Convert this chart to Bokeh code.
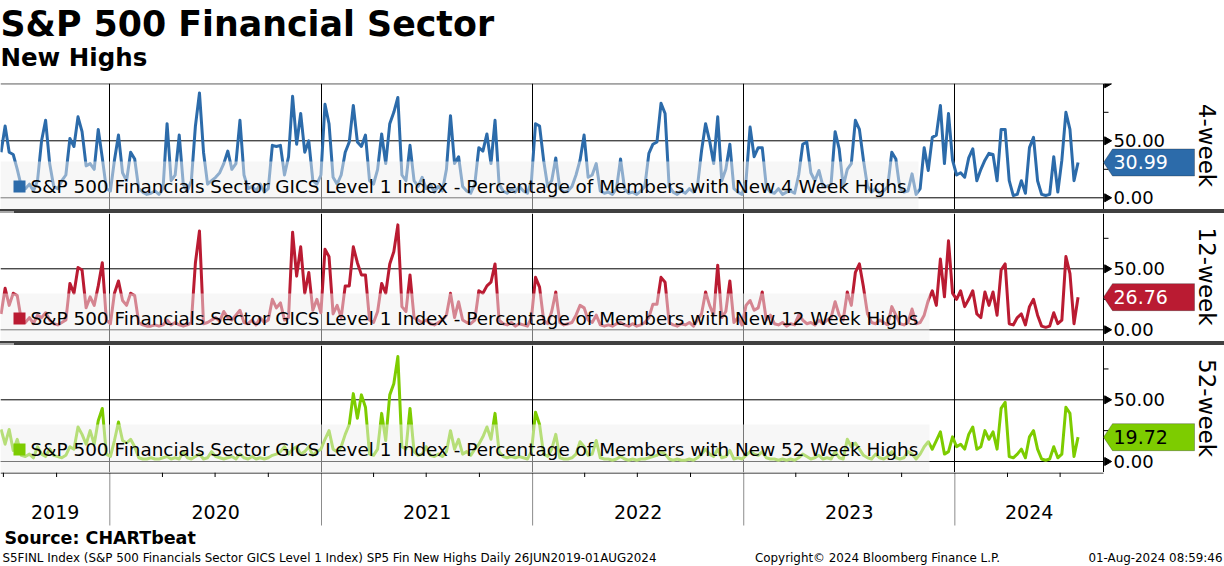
import math
import pandas as pd
from bokeh.plotting import figure
from bokeh.models import (Range1d, FixedTicker, Label, PolyAnnotation, BoxAnnotation,
                          Span, Grid, Div)
from bokeh.layouts import column
from bokeh.embed import file_html
from bokeh.resources import INLINE

# ---------------- data (weekly readings, % of members) ----------------
dates = pd.date_range("2019-06-27", "2024-08-01", freq="7D")

week4 = [40, 63, 40, 38, 25, 10, 8, 12, 6, 15,
         50, 68, 30, 10, 8, 15, 20, 52, 45, 71,
         58, 28, 30, 25, 60, 35, 8, 6, 33, 55,
         22, 15, 40, 34, 8, 5, 3, 4, 6, 3,
         8, 65, 15, 20, 55, 12, 6, 15, 63, 92,
         40, 12, 15, 18, 22, 30, 41, 25, 30, 68,
         20, 8, 10, 6, 12, 5, 8, 46, 45, 46,
         20, 36, 89, 47, 74, 40, 50, 15, 12, 20,
         82, 65, 18, 12, 20, 40, 49, 81, 49, 45,
         55, 15, 12, 25, 56, 30, 65, 75, 88, 20,
         15, 46, 15, 10, 18, 8, 12, 5, 10, 6,
         25, 72, 30, 36, 10, 6, 4, 12, 44, 41,
         56, 30, 68, 12, 6, 4, 8, 5, 10, 6,
         4, 15, 65, 63, 33, 10, 15, 35, 8, 5,
         6, 10, 20, 33, 55, 18, 20, 30, 6, 4,
         5, 3, 8, 34, 8, 4, 5, 3, 6, 10,
         39, 47, 49, 83, 74, 10, 5, 3, 6, 4,
         8, 5, 10, 41, 65, 50, 30, 71, 15, 25,
         47, 8, 5, 3, 15, 62, 36, 44, 44, 10,
         5, 4, 8, 3, 5, 6, 4, 20, 47, 49,
         22, 15, 24, 10, 10, 12, 58, 43, 10, 25,
         30, 68, 60, 33, 10, 5, 8, 4, 6, 10,
         40, 34, 8, 5, 6, 21, 3, 8, 44, 24,
         53, 55, 81, 30, 74, 33, 20, 22, 18, 35,
         43, 15, 25, 33, 39, 38, 15, 60, 60, 15,
         2, 3, 15, 4, 44, 53, 15, 3, 2, 3,
         36, 5, 33, 75, 60, 15, 30.99]

week12 = [13, 34, 20, 30, 28, 8, 6, 10, 5, 12,
          10, 14, 8, 5, 4, 6, 8, 38, 30, 51,
          49, 18, 27, 20, 36, 55, 8, 5, 30, 40,
          24, 20, 30, 28, 6, 4, 3, 3, 4, 3,
          4, 8, 4, 6, 4, 3, 4, 6, 55, 81,
          5, 6, 8, 10, 7, 15, 10, 8, 12, 16,
          6, 5, 8, 4, 10, 6, 8, 25, 18, 22,
          8, 10, 80, 44, 68, 30, 47, 16, 25, 14,
          66, 60, 13, 20, 10, 36, 36, 68, 55, 45,
          45, 8, 6, 15, 38, 30, 54, 64, 86, 19,
          15, 45, 10, 8, 6, 8, 5, 4, 6, 8,
          12, 30, 10, 23, 8, 6, 5, 8, 32, 30,
          36, 39, 54, 8, 5, 4, 6, 3, 5, 4,
          3, 10, 43, 35, 8, 5, 15, 31, 6, 4,
          5, 6, 12, 20, 18, 8, 6, 12, 4, 3,
          4, 3, 5, 6, 4, 3, 5, 3, 4, 6,
          10, 21, 21, 43, 39, 6, 4, 3, 5, 4,
          6, 3, 8, 13, 31, 20, 12, 53, 10, 15,
          40, 6, 10, 4, 20, 24, 16, 18, 31, 8,
          12, 5, 4, 6, 3, 5, 4, 12, 8, 5,
          6, 4, 8, 5, 8, 10, 23, 12, 8, 31,
          20, 47, 54, 35, 13, 6, 5, 8, 6, 4,
          19, 12, 5, 4, 6, 17, 5, 6, 12, 24,
          32, 20, 58, 27, 73, 30, 25, 32, 19, 25,
          32, 13, 10, 31, 20, 31, 12, 49, 54, 5,
          4, 10, 13, 4, 19, 25, 12, 3, 2, 3,
          14, 5, 8, 60, 46, 5, 26.76]

week52 = [26, 14, 26, 9, 18, 5, 4, 6, 3, 12,
          6, 4, 10, 5, 4, 3, 5, 12, 10, 28,
          22, 14, 25, 14, 33, 43, 6, 4, 17, 32,
          17, 15, 18, 12, 3, 2, 2, 3, 2, 2,
          3, 4, 2, 3, 2, 8, 3, 2, 4, 6,
          2, 3, 8, 4, 3, 2, 3, 4, 2, 6,
          3, 2, 4, 2, 3, 2, 3, 5, 6, 8,
          12, 6, 10, 12, 6, 8, 12, 5, 8, 10,
          18, 25, 10, 8, 12, 22, 30, 55, 35, 54,
          44, 6, 5, 10, 39, 17, 54, 63, 85, 12,
          10, 43, 8, 5, 6, 12, 5, 4, 6, 4,
          8, 25, 10, 18, 6, 8, 5, 10, 14, 20,
          28, 18, 39, 8, 4, 3, 4, 3, 4, 3,
          2, 8, 40, 30, 6, 4, 10, 22, 3, 2,
          2, 3, 6, 16, 12, 5, 6, 17, 3, 2,
          2, 1, 2, 4, 2, 1, 2, 1, 2, 2,
          3, 4, 5, 8, 6, 2, 1, 2, 1, 1,
          2, 1, 3, 6, 10, 6, 4, 10, 3, 4,
          9, 2, 3, 2, 5, 8, 6, 5, 8, 3,
          2, 2, 1, 2, 1, 2, 1, 3, 6, 4,
          2, 3, 5, 2, 3, 2, 8, 3, 2, 18,
          12, 15, 10, 5, 3, 2, 6, 3, 2, 4,
          8, 3, 2, 3, 8, 6, 2, 6, 12, 16,
          10, 17, 24, 6, 8, 20, 12, 14, 10, 22,
          28, 10, 12, 25, 18, 24, 10, 43, 48, 4,
          3, 6, 10, 3, 20, 25, 10, 2, 1, 2,
          12, 3, 6, 44, 39, 4, 19.72]

series_labels = [
    "S&P 500 Financials Sector GICS Level 1 Index - Percentage of Members with New 4 Week Highs",
    "S&P 500 Financials Sector GICS Level 1 Index - Percentage of Members with New 12 Week Highs",
    "S&P 500 Financials Sector GICS Level 1 Index - Percentage of Members with New 52 Week Highs",
]
panel_names = ["4-week", "12-week", "52-week"]
colors = ["#2C6BAA", "#BA1B32", "#7DCC00"]
tag_text_colors = ["white", "white", "black"]
y_major_ticks = [0, 50, 100]
y_minor_ticks = [25, 75]
year_labels = ["2019", "2020", "2021", "2022", "2023", "2024"]

title_text = "S&P 500 Financial Sector"
subtitle_text = "New Highs"
source_text = "Source: CHARTbeat"
footer_left = "S5FINL Index (S&P 500 Financials Sector GICS Level 1 Index) SP5 Fin New Highs  Daily 26JUN2019-01AUG2024"
footer_mid = "Copyright\u00a9 2024 Bloomberg Finance L.P."
footer_right = "01-Aug-2024 08:59:46"

# ---------------- geometry ----------------
W = 1224
AXX = 1103          # pixel column of the right value axis
FONT = "DejaVu Sans"


def ms(s):
    return pd.Timestamp(s).value / 1e6


X0 = ms("2019-06-26")
X1 = ms("2024-09-14")           # right value axis
MPP = (X1 - X0) / AXX
XR = X0 + W * MPP               # frame spans the full width


def cx(px):
    return X0 + px * MPP


year_starts = [ms(f"{y}-01-01") for y in range(2020, 2025)]
quarters = [ms(f"{y}-{m:02d}-01") for y in range(2019, 2025) for m in (4, 7, 10)
            if X0 <= ms(f"{y}-{m:02d}-01") <= X1]


def base_fig(height, xr, yr):
    f = figure(width=W, height=height, x_range=xr, y_range=yr,
               x_axis_location=None, y_axis_location=None,
               output_backend="svg", toolbar_location=None, title=None,
               min_border=0, outline_line_color=None,
               background_fill_color="white", border_fill_color="white")
    f.grid.visible = False
    return f


def text(x, y, s, size, **kw):
    # y is the vertical centre of the glyphs
    return Label(x=x, y=y, text=s, text_font=FONT, text_font_size=size,
                 text_color=kw.pop("text_color", "black"),
                 text_baseline="alphabetic", **kw)


def make_panel(vals, idx, ystart, yend, height, band_right):
    color = colors[idx]
    k = height / (yend - ystart)            # pixels per unit
    p = base_fig(height, Range1d(X0, XR), Range1d(ystart, yend))

    # year grid lines
    p.add_layout(Grid(dimension=0, ticker=FixedTicker(ticks=year_starts),
                      grid_line_color="black", grid_line_width=1))
    # horizontal value grid lines, stopping at the value axis
    gl = [t for t in y_major_ticks if ystart <= t <= yend]
    p.segment(x0=[X0] * len(gl), y0=gl, x1=[X1] * len(gl), y1=gl,
              line_color="black", line_width=1)

    # the series
    p.line(x=dates, y=vals, line_width=3, line_color=color, line_join="round")

    # legend band
    p.add_layout(BoxAnnotation(right=cx(band_right), top=ystart + 48 / k,
                               fill_color="#f0f0f0", fill_alpha=0.5,
                               line_color=None))
    p.add_layout(BoxAnnotation(left=cx(13), right=cx(25),
                               bottom=ystart + 17 / k, top=ystart + 29 / k,
                               fill_color=color, fill_alpha=1.0, line_color=None))
    p.add_layout(text(cx(30), ystart + 23.3 / k, series_labels[idx], "18.4px"))

    # right value axis
    p.add_layout(Span(location=X1, dimension="height", line_color="black", line_width=1))
    p.scatter(x=[cx(AXX + 3.5)] * len(gl), y=gl, marker="triangle", size=8,
              angle=-math.pi / 2, fill_color="black", line_color="black")
    mn = [t for t in y_minor_ticks if ystart <= t <= yend]
    p.segment(x0=[X1] * len(mn), y0=mn, x1=[cx(AXX + 5)] * len(mn), y1=mn,
              line_color="black", line_width=1)
    for t in gl:
        if t == 100:
            continue
        p.add_layout(text(cx(AXX + 10), t, f"{t:.2f}", "18px"))
    p.add_layout(text(cx(1206), (ystart + yend) / 2 + 1 / k, panel_names[idx], "23px",
                      angle=-math.pi / 2, text_align="center"))

    # last-value tag
    v = vals[-1]
    h = 13.5 / k
    p.add_layout(PolyAnnotation(xs=[X1, cx(AXX + 9), cx(1194), cx(1194), cx(AXX + 9)],
                                ys=[v, v + h, v + h, v - h, v - h],
                                fill_color=color, fill_alpha=1.0,
                                line_color="#1a1a1a", line_width=1))
    p.add_layout(text(cx(AXX + 10), v, f"{v:.2f}", "19px",
                      text_color=tag_text_colors[idx]))
    return p


HANDLE = ('<div style="width:14px;height:1px;margin:0 auto;'
          'border-top:1px solid #a8a8a8;border-bottom:1px solid #a8a8a8;'
          'position:relative;top:0px"></div>')


def make_sep():
    return Div(text=HANDLE, width=W, height=4, margin=0,
               styles={"background-color": "#404040", "overflow": "hidden",
                       "line-height": "0"})


# header
ph = base_fig(83, Range1d(0, W), Range1d(0, 83))
ph.add_layout(text(0, 83 - 23.5, title_text, "34.8px", text_font_style="bold"))
ph.add_layout(text(0, 83 - 57, subtitle_text, "24.5px", text_font_style="bold"))

p1 = make_panel(week4, 0, -10.26, 100.26, 126, 918)
p2 = make_panel(week12, 1, -9.59, 95.33, 128, 929)
p3 = make_panel(week52, 2, -8.91, 94.0, 127, 929)

# time axis strip
pa = base_fig(56, Range1d(X0, XR), Range1d(0, 56))
pa.segment(x0=year_starts, y0=[3] * len(year_starts), x1=year_starts,
           y1=[56] * len(year_starts), line_color="#8c8c8c", line_width=1)
pa.segment(x0=[X0], y0=[55.5], x1=[X1], y1=[55.5], line_color="black", line_width=1)
pa.segment(x0=quarters, y0=[56] * len(quarters), x1=quarters,
           y1=[51.5] * len(quarters), line_color="black", line_width=1)
bounds = [X0] + year_starts + [X1]
for i, yl in enumerate(year_labels):
    mid = (bounds[i] + bounds[i + 1]) / 2
    pa.add_layout(text(mid, 56 - 39, yl, "19px", text_align="center"))

# footer
pf = base_fig(38, Range1d(0, W), Range1d(0, 38))
pf.add_layout(text(4, 38 - 9.5, source_text, "17.5px", text_font_style="bold"))
pf.add_layout(text(2, 38 - 29, footer_left, "11.9px"))
pf.add_layout(text(877, 38 - 29, footer_mid, "11.9px", text_align="center"))
pf.add_layout(text(1222, 38 - 29, footer_right, "11.9px", text_align="right"))

layout = column(ph, p1, make_sep(), p2, make_sep(), p3, pa, pf, spacing=0)
open("out.html", "w").write(file_html(layout, INLINE))
